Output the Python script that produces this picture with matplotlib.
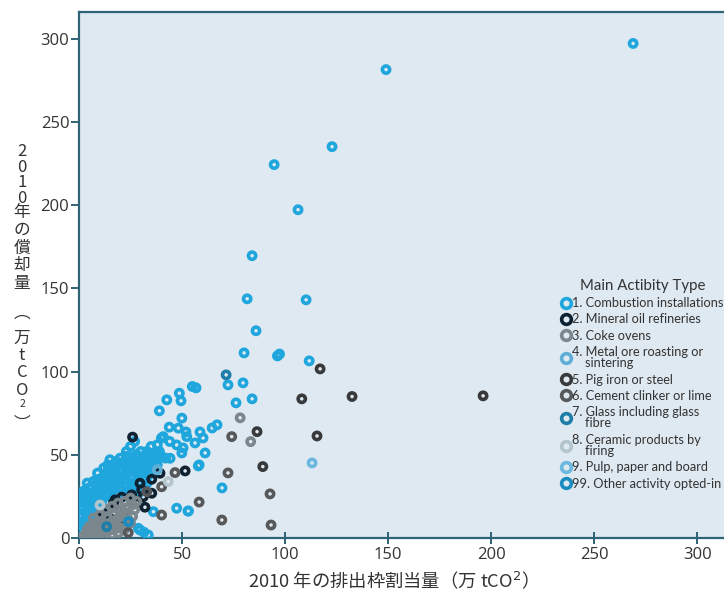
import matplotlib
matplotlib.use("Agg")
import matplotlib.pyplot as plt
from matplotlib.lines import Line2D

plt.rcParams['font.family'] = ['Open Sans', 'Noto Sans CJK JP', 'DejaVu Sans']

# ---------------- data (x: 2010 allocation, y: 2010 surrendered; 万tCO2) ----------------
t1_x = [268.9, 149.0, 122.8, 94.7, 106.3, 84.0, 110.2, 81.6, 85.9, 80.1, 96.3, 97.3, 111.7,
        72.3, 79.6, 56.8, 76.2, 84.0, 69.4, 52.9, 58.3, 61.2, 67.0, 64.6, 58.7, 56.3, 50.5,
        48.7, 42.6, 49.5, 39.0, 49.9, 43.8, 48.2, 51.9, 40.9, 52.3, 60.2, 47.4, 49.9, 36.1,
        44.2, 34.1, 23.9, 27.2, 57.9, 20.7, 47.4, 53.1, 36.1, 4.5, 2.9, 23.9, 29.6, 33.6,
        55.0, 28.8, 31.5, 1.3,
        12, 14, 17, 19, 22, 24, 26, 29, 31, 33, 35, 11, 13, 16, 18, 21, 23, 26, 28, 30, 32,
        34, 12, 15, 18, 20, 23, 26, 28, 31, 10, 13, 16, 19, 22, 8, 11, 14, 6, 9, 3, 5, 2, 4,
        1, 3, 6, 8, 2, 6, 10, 13, 11, 7, 9, 15, 20, 25, 37, 39, 44, 38, 36, 28, 23, 1, 2, 4,
        13, 15, 17, 19, 21, 24, 25, 27, 29, 30, 33, 12, 14, 16, 20, 22, 24, 27, 29, 32, 34,
        36, 31, 26, 22, 18, 25, 27, 23, 34, 38, 40, 42, 36, 2, 3, 1, 4, 5, 7, 6, 8, 9, 10, 3,
        1, 4, 7, 5, 2, 0.5, 6, 11, 9, 14, 17, 20, 28, 33, 30, 29, 35, 40, 38]
t1_y = [297.1, 281.4, 235.1, 224.3, 197.2, 169.6, 143.1, 143.7, 124.5, 111.2, 109.4, 110.5, 106.4,
        92.0, 93.2, 90.2, 81.2, 83.6, 30.1, 16.2, 43.9, 51.1, 68.0, 66.1, 63.7, 57.1, 54.1,
        87.0, 83.0, 82.4, 76.4, 72.0, 66.6, 66.0, 63.7, 60.9, 60.9, 60.1, 55.9, 51.1, 49.9,
        47.9, 46.9, 48.5, 44.9, 43.3, 39.9, 17.9, 16.2, 15.8, 26.9, 20.9, 9.8, 4.8, 1.8,
        91.0, 5.8, 3.5, 12.8,
        42, 44, 41, 44, 43, 40, 42, 44, 46, 41, 44, 36, 38, 36, 38, 37, 35, 36, 38, 39, 35,
        38, 31, 32, 33, 30, 31, 31, 29, 30, 27, 26, 28, 26, 27, 23, 22, 21, 18, 16, 25, 30, 18, 12,
        8, 3, 6, 10, 1, 1, 2, 13, 17, 34, 39, 47, 48, 46, 48, 52, 58, 44, 50, 50, 49, 22, 28, 33,
        28, 25, 30, 33, 29, 27, 33, 31, 27, 33, 33, 34, 41, 43, 40, 38, 44, 40, 41, 43, 46,
        45, 48, 48, 46, 46, 55, 58, 52, 50, 51, 49, 48, 42, 22, 28, 25, 17, 22, 20, 25, 26, 30, 22, 15,
        4, 8, 4, 12, 10, 18, 31, 30, 35, 35, 34, 44, 46, 52, 52, 49, 55, 60, 56]

t2_x = [26.0, 39.3, 51.5, 29.6, 16.7, 35.3, 31.2, 32.0, 17.5, 11.8, 20.7, 25.6, 15.0,
        35.3, 30.4, 28.0, 22.0, 19.0, 9.0]
t2_y = [60.6, 38.9, 40.3, 32.9, 20.9, 35.3, 24.8, 18.5, 22.9, 14.8, 24.5, 25.9, 11.8,
        26.9, 28.9, 21.0, 15.0, 8.0, 5.0]

t3_x = [78.2, 83.3, 3, 6, 9, 12, 15, 18, 21, 24, 5, 8, 11, 14, 17, 20, 23, 26, 10, 13, 16,
        19, 22, 25, 7, 28, 19, 22, 16, 12, 4,
        2, 4, 7, 9, 11, 13, 15, 17, 19, 21, 23, 24, 10, 8, 6, 14, 17, 20, 23, 25, 26, 27]
t3_y = [72.2, 57.9, 2, 3, 4, 5, 6, 7, 9, 11, 7, 9, 10, 12, 14, 16, 18, 20, 14, 17, 19,
        21, 22, 24, 12, 22, 3, 5, 2, 1, 5,
        1, 3, 2, 1, 3, 7, 9, 10, 12, 14, 15, 18, 8, 6, 5, 4, 5, 6, 7, 9, 13, 17]

t4_x = [38.0]
t4_y = [41.0]

t5_x = [117.0, 132.5, 196.1, 108.1, 115.5, 86.4, 89.2]
t5_y = [101.6, 85.0, 85.4, 83.6, 61.3, 63.9, 42.9]

t6_x = [74.1, 72.3, 92.7, 58.3, 69.3, 93.2, 40.1, 40.1, 46.6, 32.9, 23.9]
t6_y = [60.9, 39.1, 26.5, 21.6, 10.8, 7.8, 30.8, 13.8, 39.3, 27.8, 3.2]

t7_x = [71.4, 13.4]
t7_y = [98.0, 6.8]

t8_x = [43.3, 10.2]
t8_y = [33.9, 19.8]

t9_x = [113.1]
t9_y = [45.1]

t99_x = [24.0]
t99_y = [9.8]

labels = ["1. Combustion installations", "2. Mineral oil refineries", "3. Coke ovens",
          "4. Metal ore roasting or\n    sintering", "5. Pig iron or steel",
          "6. Cement clinker or lime", "7. Glass including glass\n    fibre",
          "8. Ceramic products by\n    firing", "9. Pulp, paper and board",
          "99. Other activity opted-in"]
colors = ["#1ea6dd", "#0e2231", "#7b868d", "#5eaed6", "#38393b", "#56585a",
          "#1e7ea8", "#b4c5cd", "#6cb8de", "#1b8cc0"]
series = [(t1_x, t1_y), (t2_x, t2_y), (t3_x, t3_y), (t4_x, t4_y), (t5_x, t5_y),
          (t6_x, t6_y), (t7_x, t7_y), (t8_x, t8_y), (t9_x, t9_y), (t99_x, t99_y)]

xticks = [0, 50, 100, 150, 200, 250, 300]
yticks = [0, 50, 100, 150, 200, 250, 300]

# ---------------- figure ----------------
W, H = 724, 592
fig = plt.figure(figsize=(W / 100, H / 100), dpi=100)
ax = fig.add_axes([79 / W, (H - 538) / H, (W - 79) / W, (538 - 12) / H])
ax.set_facecolor("#dfe9f1")
ax.set_xlim(0, 313)
ax.set_ylim(0, 316)

spine_c = "#2f6376"
for s in ["left", "top", "bottom"]:
    ax.spines[s].set_color(spine_c)
    ax.spines[s].set_linewidth(1.6)
ax.spines["right"].set_visible(False)

for (xs, ys), c in zip(series, colors):
    ax.scatter(xs, ys, s=27, facecolors="none", edgecolors=c, linewidths=2.6, zorder=3)

ax.set_xticks(xticks)
ax.set_yticks(yticks)
ax.tick_params(axis="x", direction="inout", length=9, width=1.4, color=spine_c,
               labelsize=12, labelcolor="#333333", pad=2)
ax.tick_params(axis="y", direction="out", length=6, width=1.4, color=spine_c,
               labelsize=12, labelcolor="#333333", pad=1)

cjk = ["Noto Sans CJK JP", "DejaVu Sans"]
# x label
fig.text(388 / W, 1 - 580 / H, "2010 年の排出枠割当量（万 tCO$^{2}$）", ha="center", va="center",
         fontsize=13.2, color="#333333", family=cjk)

# vertical y label (upright characters), stacked in groups
def vtext(txt, yc, ls, fs=12):
    fig.text(22 / W, 1 - yc / H, txt, ha="center", va="center", fontsize=fs,
             color="#333333", family=cjk, linespacing=ls, multialignment="center")

vtext("2\n0\n1\n0", 175, 0.88)
vtext("年\nの\n償\n却\n量", 248, 1.06)
vtext("︵", 313, 1.0)
vtext("万\nt\nC\nO", 364, 1.03)
vtext("2", 404, 1.0, fs=7.5)
vtext("︶", 424, 1.0)

# legend
handles = [Line2D([], [], ls="none", marker="o", markersize=7, markerfacecolor="none",
                  markeredgecolor=c, markeredgewidth=2.6) for c in colors]
leg = ax.legend(handles, labels, loc="upper left", bbox_to_anchor=(553 / W, 1 - 270 / H),
                bbox_transform=fig.transFigure, frameon=False, title="Main Actibity Type",
                prop={"family": ["Lato", "DejaVu Sans"], "size": 9.2},
                handlelength=0.6, handletextpad=0.2, labelspacing=0.33, borderpad=0.2)
leg.get_title().set_fontsize(10.8)
leg.get_title().set_family(["Lato", "DejaVu Sans"])
leg.get_title().set_color("#333333")
for t in leg.get_texts():
    t.set_color("#333333")
    t.set_linespacing(0.95)

fig.savefig("out.png", dpi=100)
